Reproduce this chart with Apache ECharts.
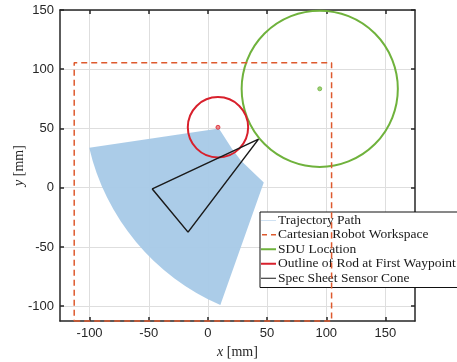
<!DOCTYPE html>
<html>
<head>
<meta charset="utf-8">
<script src="https://cdn.jsdelivr.net/npm/echarts@6/dist/echarts.min.js"></script>
<style>
html,body{margin:0;padding:0;background:#fff;}
#chart{width:457px;height:362px;}
</style>
</head>
<body>
<div id="chart"></div>
<script>
// ---- data ----
const xTicks = [-100, -50, 0, 50, 100, 150];
const yTicks = [-100, -50, 0, 50, 100, 150];
const xRange = [-125, 175];
const yRange = [-112.5, 150];

// Trajectory path outline (swept area): straight-edged corners, then an arc back to the start
const trajX = [-100.3, 9.3, 20.2, 27.8, 47.2, 10.5];
const trajY = [33.8, 50.0, 33.2, 23.0, 4.5, -99.0];
const trajArcRadius = 192;   // radius of the outer (lower-left) arc of the swept area

// Cartesian robot workspace rectangle
const wsX = [-113, 104.5, 104.5, -113, -113];
const wsY = [-112.5, -112.5, 105.5, 105.5, -112.5];

// SDU location circle
const sduCenter = [94.5, 83.5];
const sduRadius = 66;

// Rod outline at first waypoint
const rodCenter = [8.5, 51];
const rodRadius = 25.5;

// Spec sheet sensor cone
const coneX = [42.8, -47, -16.8, 42.8];
const coneY = [41, -1, -37.5, 41];

const names = ['Trajectory Path', 'Cartesian Robot Workspace', 'SDU Location', 'Outline of Rod at First Waypoint', 'Spec Sheet Sensor Cone'];
const colors = {traj: '#a6c9e7', ws: '#de5a2e', sdu: '#6fb23c', rod: '#d8202c', cone: '#1a1a1a'};

const zip = (a, b) => a.map((v, i) => [v, b[i]]);

function lineIcon(th) {
  const y0 = (4 - th) / 2;
  return 'path://M0,0h0.01v0.01h-0.01z M0,' + y0 + 'h20v' + th + 'h-20z M0,3.99h0.01v0.01h-0.01z';
}
const dashIcon = 'path://M0,0h0.01v0.01h-0.01z M1,1.25h5v1.5h-5z M10,1.25h5v1.5h-5z M0,3.99h0.01v0.01h-0.01z';

const chart = echarts.init(document.getElementById('chart'), null, {renderer: 'canvas'});

const axisLineStyle = {color: '#262626', width: 1.5};
const gridLine = {show: true, lineStyle: {color: '#dedede', width: 1}};
const labelStyle = {color: '#262626', fontSize: 13, fontFamily: 'Liberation Sans, Arial, sans-serif'};
const nameStyle = {color: '#262626', fontSize: 14, fontFamily: 'Liberation Serif, serif',
  rich: {i: {fontStyle: 'italic', fontSize: 14, fontFamily: 'Liberation Serif, serif', color: '#262626'}}};

const option = {
  animation: false,
  backgroundColor: '#fff',
  grid: {left: 60, top: 10, right: 42, bottom: 41, containLabel: false, outerBoundsMode: 'none'},
  xAxis: [
    {
      type: 'value', min: xRange[0], max: xRange[1], position: 'bottom',
      axisLine: {show: true, onZero: false, lineStyle: axisLineStyle},
      axisTick: {show: true, inside: true, length: 4, customValues: xTicks, lineStyle: axisLineStyle},
      axisLabel: Object.assign({customValues: xTicks, margin: 6}, labelStyle),
      splitLine: gridLine,
      name: '{i|x} [mm]', nameLocation: 'middle', nameGap: 24, nameMoveOverlap: false,
      nameTextStyle: nameStyle
    },
    {
      type: 'value', min: xRange[0], max: xRange[1], position: 'top',
      axisLine: {show: true, onZero: false, lineStyle: axisLineStyle},
      axisTick: {show: true, inside: true, length: 4, customValues: xTicks, lineStyle: axisLineStyle},
      axisLabel: {show: false, customValues: xTicks},
      splitLine: {show: false}
    }
  ],
  yAxis: [
    {
      type: 'value', min: yRange[0], max: yRange[1], position: 'left',
      axisLine: {show: true, onZero: false, lineStyle: axisLineStyle},
      axisTick: {show: true, inside: true, length: 4, customValues: yTicks, lineStyle: axisLineStyle},
      axisLabel: Object.assign({customValues: yTicks, margin: 6}, labelStyle),
      splitLine: gridLine,
      name: '{i|y} [mm]', nameLocation: 'middle', nameGap: 34, nameRotate: 90, nameMoveOverlap: false,
      nameTextStyle: nameStyle
    },
    {
      type: 'value', min: yRange[0], max: yRange[1], position: 'right',
      axisLine: {show: true, onZero: false, lineStyle: axisLineStyle},
      axisTick: {show: true, inside: true, length: 4, customValues: yTicks, lineStyle: axisLineStyle},
      axisLabel: {show: false, customValues: yTicks},
      splitLine: {show: false}
    }
  ],
  legend: {
    left: 260, top: 212, orient: 'vertical',
    backgroundColor: '#fff', borderColor: '#111', borderWidth: 1,
    padding: [1, 4, 2, 1], itemGap: 0, itemWidth: 15, itemHeight: 4,
    selectedMode: false,
    itemStyle: {borderWidth: 0},
    textStyle: {fontFamily: 'Liberation Serif, serif', fontSize: 13.5, color: '#1a1a1a', lineHeight: 14.5, padding: [0, 0, 0, -3]},
    data: [
      {name: names[0], icon: lineIcon(0.7), itemStyle: {color: '#9fc3e6'}},
      {name: names[1], icon: dashIcon, itemStyle: {color: colors.ws}},
      {name: names[2], icon: lineIcon(2.6), itemStyle: {color: colors.sdu}},
      {name: names[3], icon: lineIcon(2.6), itemStyle: {color: colors.rod}},
      {name: names[4], icon: lineIcon(1.6), itemStyle: {color: colors.cone}}
    ]
  },
  series: [
    {
      name: names[0], type: 'custom', xAxisIndex: 0, yAxisIndex: 0, z: 1,
      itemStyle: {color: colors.traj},
      data: [[trajX[0], trajY[0]]],
      renderItem: function (params, api) {
        const pts = trajX.map((x, i) => api.coord([x, trajY[i]]));
        const r = api.size([trajArcRadius, 0])[0];
        let d = 'M' + pts[0][0] + ',' + pts[0][1];
        for (let i = 1; i < pts.length; i++) d += ' L' + pts[i][0] + ',' + pts[i][1];
        d += ' A' + r + ',' + r + ' 0 0 1 ' + pts[0][0] + ',' + pts[0][1] + ' Z';
        return {type: 'path', shape: {pathData: d},
          style: {fill: colors.traj, opacity: 0.95}};
      }
    },
    {
      name: names[1], type: 'line', xAxisIndex: 0, yAxisIndex: 0, z: 5,
      data: zip(wsX, wsY), symbol: 'none', clip: false,
      lineStyle: {color: colors.ws, width: 1.5, type: [6, 4]},
      itemStyle: {color: colors.ws}
    },
    {
      name: names[2], type: 'custom', xAxisIndex: 0, yAxisIndex: 0, z: 4,
      itemStyle: {color: colors.sdu},
      data: [[sduCenter[0], sduCenter[1], sduRadius]],
      renderItem: function (params, api) {
        const c = api.coord([api.value(0), api.value(1)]);
        const r = api.size([api.value(2), 0])[0];
        return {type: 'group', children: [
          {type: 'circle', shape: {cx: c[0], cy: c[1], r: r}, style: {fill: 'none', stroke: colors.sdu, lineWidth: 2}},
          {type: 'circle', shape: {cx: c[0], cy: c[1], r: 2}, style: {fill: '#9fd07a', stroke: colors.sdu, lineWidth: 0.8}}
        ]};
      }
    },
    {
      name: names[3], type: 'custom', xAxisIndex: 0, yAxisIndex: 0, z: 4,
      itemStyle: {color: colors.rod},
      data: [[rodCenter[0], rodCenter[1], rodRadius]],
      renderItem: function (params, api) {
        const c = api.coord([api.value(0), api.value(1)]);
        const r = api.size([api.value(2), 0])[0];
        return {type: 'group', children: [
          {type: 'circle', shape: {cx: c[0], cy: c[1], r: r}, style: {fill: 'none', stroke: colors.rod, lineWidth: 2}},
          {type: 'circle', shape: {cx: c[0], cy: c[1], r: 2}, style: {fill: '#ee8a8a', stroke: colors.rod, lineWidth: 0.8}}
        ]};
      }
    },
    {
      name: names[4], type: 'line', xAxisIndex: 0, yAxisIndex: 0, z: 6,
      data: zip(coneX, coneY), symbol: 'none', clip: false,
      lineStyle: {color: colors.cone, width: 1.5},
      itemStyle: {color: colors.cone}
    }
  ]
};
chart.setOption(option);
</script>
</body>
</html>
